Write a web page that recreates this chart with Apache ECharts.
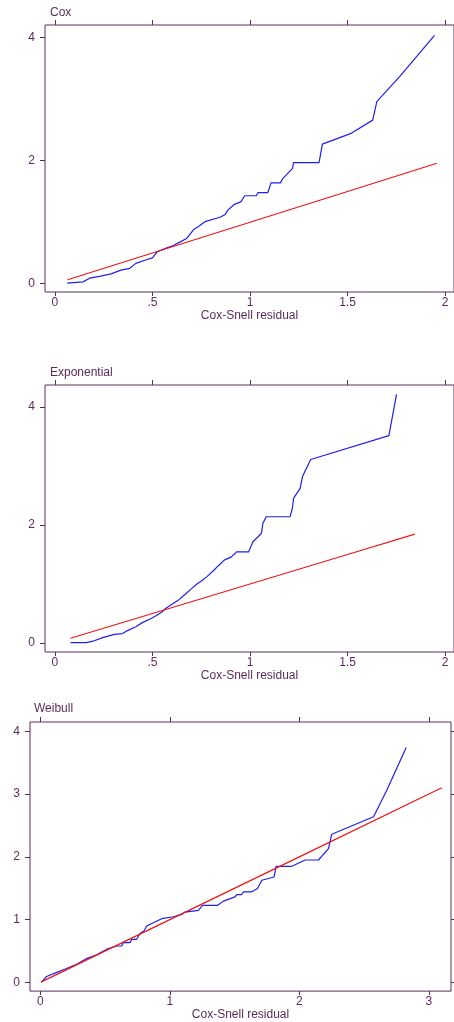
<!DOCTYPE html>
<html>
<head>
<meta charset="utf-8">
<script src="https://cdn.jsdelivr.net/npm/echarts@6/dist/echarts.min.js"></script>
<style>
    html, body { margin: 0; padding: 0; background: #fff; }
    #residual-chart { width: 454px; height: 1022px; }
</style>
</head>
<body>
<div id="residual-chart"></div>
<script>
    // Cox model: cumulative hazard of Cox-Snell residuals
    const coxX = [0.063, 0.144, 0.178, 0.228, 0.288, 0.338, 0.384, 0.415, 0.465, 0.5, 0.525, 0.567, 0.6, 0.643, 0.677, 0.711, 0.736, 0.77, 0.846, 0.871, 0.888, 0.922, 0.953, 0.973, 1.032, 1.041, 1.091, 1.108, 1.156, 1.168, 1.218, 1.223, 1.354, 1.371, 1.515, 1.629, 1.65, 1.768, 1.946]
    const coxY = [0.01, 0.03, 0.09, 0.12, 0.16, 0.22, 0.25, 0.33, 0.385, 0.42, 0.52, 0.575, 0.61, 0.68, 0.74, 0.88, 0.93, 1.01, 1.08, 1.12, 1.2, 1.295, 1.33, 1.43, 1.43, 1.48, 1.48, 1.64, 1.64, 1.71, 1.875, 1.97, 1.97, 2.27, 2.44, 2.66, 2.96, 3.37, 4.04]
    const coxRef = [0.065, 0.5, 1, 1.5, 1.958]

    // Exponential model
    const expX = [0.08, 0.161, 0.195, 0.245, 0.305, 0.347, 0.372, 0.415, 0.448, 0.491, 0.525, 0.55, 0.567, 0.6, 0.634, 0.668, 0.702, 0.728, 0.753, 0.778, 0.812, 0.838, 0.868, 0.905, 0.931, 0.993, 1.015, 1.058, 1.066, 1.083, 1.206, 1.218, 1.223, 1.257, 1.269, 1.311, 1.712, 1.751]
    const expY = [0.005, 0.005, 0.03, 0.09, 0.145, 0.16, 0.21, 0.275, 0.345, 0.41, 0.475, 0.53, 0.585, 0.655, 0.73, 0.825, 0.925, 1.0, 1.055, 1.12, 1.225, 1.31, 1.405, 1.46, 1.545, 1.545, 1.715, 1.855, 2.025, 2.14, 2.14, 2.3, 2.45, 2.62, 2.82, 3.11, 3.515, 4.215]
    const expRef = [0.08, 0.5, 1, 1.5, 1.845]

    // Weibull model
    const weiX = [0.01, 0.049, 0.113, 0.203, 0.281, 0.358, 0.435, 0.513, 0.59, 0.628, 0.641, 0.693, 0.706, 0.744, 0.77, 0.8, 0.822, 0.873, 0.937, 1.028, 1.092, 1.118, 1.221, 1.252, 1.367, 1.414, 1.504, 1.517, 1.555, 1.568, 1.633, 1.677, 1.71, 1.805, 1.821, 1.942, 2.045, 2.148, 2.225, 2.25, 2.573, 2.676, 2.825]
    const weiY = [0.01, 0.095, 0.148, 0.222, 0.29, 0.38, 0.44, 0.53, 0.58, 0.58, 0.634, 0.634, 0.687, 0.687, 0.78, 0.82, 0.898, 0.951, 1.015, 1.046, 1.083, 1.12, 1.147, 1.226, 1.226, 1.295, 1.363, 1.4, 1.4, 1.443, 1.443, 1.495, 1.627, 1.68, 1.85, 1.85, 1.95, 1.95, 2.13, 2.36, 2.64, 3.065, 3.74]
    const weiRef = [0.005, 1, 2, 3, 3.1]

    // tick labels
    const xTicksA = [0, 0.5, 1, 1.5, 2]
    const xTicksB = [0, 1, 2, 3]
    const yTicksA = [0, 2, 4]
    const yTicksB = [0, 1, 2, 3, 4]

    const purple = '#5a2c5c'
    const font = 'Liberation Sans, Arial, sans-serif'

    const zip = (xs, ys) => xs.map((x, i) => [x, ys[i]])

    // one panel = grid + bottom/top x axis + left/right y axis
    let panels = [
        {title: 'Cox', grid: {left: 45, top: 25, width: 413, height: 267},
            x: [-0.0508, 2.0457], y: [-0.135, 4.207], xt: xTicksA, yt: yTicksA,
            blue: zip(coxX, coxY), red: zip(coxRef, coxRef), titlePos: [45, 2]},
        {title: 'Exponential', grid: {left: 45, top: 385, width: 413, height: 267},
            x: [-0.0508, 2.0457], y: [-0.153, 4.373], xt: xTicksA, yt: yTicksA,
            blue: zip(expX, expY), red: zip(expRef, expRef), titlePos: [45, 362]},
        {title: 'Weibull', grid: {left: 30, top: 722, width: 421, height: 270},
            x: [-0.0795, 3.171], y: [-0.138, 4.148], xt: xTicksB, yt: yTicksB,
            blue: zip(weiX, weiY), red: zip(weiRef, weiRef), titlePos: [29, 698]},
    ]

    let fmt = (v) => String(v).replace(/^0\./, '.')

    let options = {
        animation: false,
        backgroundColor: '#fff',
        textStyle: {fontFamily: font},
        title: [], grid: [], xAxis: [], yAxis: [], series: []
    }

    panels.forEach((p, i) => {
        options.title.push({
            text: p.title, left: p.titlePos[0], top: p.titlePos[1],
            textStyle: {fontSize: 12, fontWeight: 'normal', color: purple, fontFamily: font}
        })
        options.grid.push(Object.assign({
            show: true, borderColor: purple, borderWidth: 1, backgroundColor: '#fff'
        }, p.grid))

        // axis lines are hidden, the grid border draws the box
        let base = {
            type: 'value', gridIndex: i, min: p.x[0], max: p.x[1],
            splitLine: {show: false}, axisLine: {show: false, onZero: false}
        }
        // bottom axis with labels
        options.xAxis.push(Object.assign({}, base, {
            position: 'bottom',
            name: 'Cox-Snell residual', nameLocation: 'middle', nameGap: 16,
            nameTextStyle: {fontSize: 12, color: purple, fontFamily: font},
            axisTick: {show: true, inside: false, length: 4, customValues: p.xt, lineStyle: {color: purple}},
            axisLabel: {show: true, margin: 5, fontSize: 12, color: purple, customValues: p.xt, formatter: fmt}
        }))
        // top axis, ticks only
        options.xAxis.push(Object.assign({}, base, {
            position: 'top',
            axisTick: {show: true, inside: false, length: 5, customValues: p.xt, lineStyle: {color: purple}},
            axisLabel: {show: false}
        }))

        let ybase = {
            type: 'value', gridIndex: i, min: p.y[0], max: p.y[1],
            splitLine: {show: false}, axisLine: {show: false, onZero: false}
        }
        options.yAxis.push(Object.assign({}, ybase, {
            position: 'left',
            axisTick: {show: true, inside: false, length: 5, customValues: p.yt, lineStyle: {color: purple}},
            axisLabel: {show: true, margin: 10, fontSize: 12, color: purple, customValues: p.yt}
        }))
        options.yAxis.push(Object.assign({}, ybase, {
            position: 'right',
            axisTick: {show: true, inside: false, length: 4, customValues: p.yt, lineStyle: {color: purple}},
            axisLabel: {show: false}
        }))

        options.series.push({
            type: 'line', xAxisIndex: 2 * i, yAxisIndex: 2 * i, data: p.blue,
            showSymbol: false, silent: true,
            lineStyle: {color: '#1f1fee', width: 1.2}
        })
        options.series.push({
            type: 'line', xAxisIndex: 2 * i, yAxisIndex: 2 * i, data: p.red,
            showSymbol: false, silent: true,
            lineStyle: {color: '#ee1515', width: 1.2}
        })
    })

    let chart = echarts.init(document.getElementById('residual-chart'))
    chart.setOption(options)
</script>
</body>
</html>
